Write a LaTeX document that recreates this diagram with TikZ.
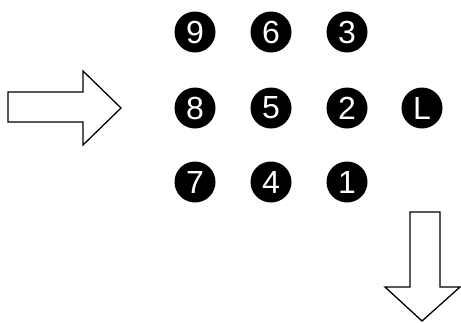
\documentclass[tikz,border=0pt]{standalone}
\usepackage{fontspec}
\setmainfont{Liberation Sans}
\begin{document}
\begin{tikzpicture}[x=1pt,y=-1pt,
  dot/.style={circle,fill=black,minimum size=41pt,inner sep=0pt,text=white,font=\fontsize{32}{32}\selectfont},
  blockarrow/.style={draw=black,line width=1.3pt,fill=white,line join=miter}]
\useasboundingbox (0,0) rectangle (461,322);
\node[dot] (n9) at (195,32) {9};
\node[dot] (n6) at (271,32) {6};
\node[dot] (n3) at (347,32) {3};
\node[dot] (n8) at (195,108) {8};
\node[dot] (n5) at (271,108) {5};
\node[dot] (n2) at (347,108) {2};
\node[dot] (nL) at (422,108) {L};
\node[dot] (n7) at (195,182) {7};
\node[dot] (n4) at (271,182) {4};
\node[dot] (n1) at (347,182) {1};
\draw[blockarrow] (8,92) -- (83,92) -- (83,71) -- (121,108) -- (83,145) -- (83,122) -- (8,122) -- cycle;
\draw[blockarrow] (410,212) -- (440,212) -- (440,287) -- (460,287) -- (422,321) -- (385,287) -- (410,287) -- cycle;
\end{tikzpicture}
\end{document}
